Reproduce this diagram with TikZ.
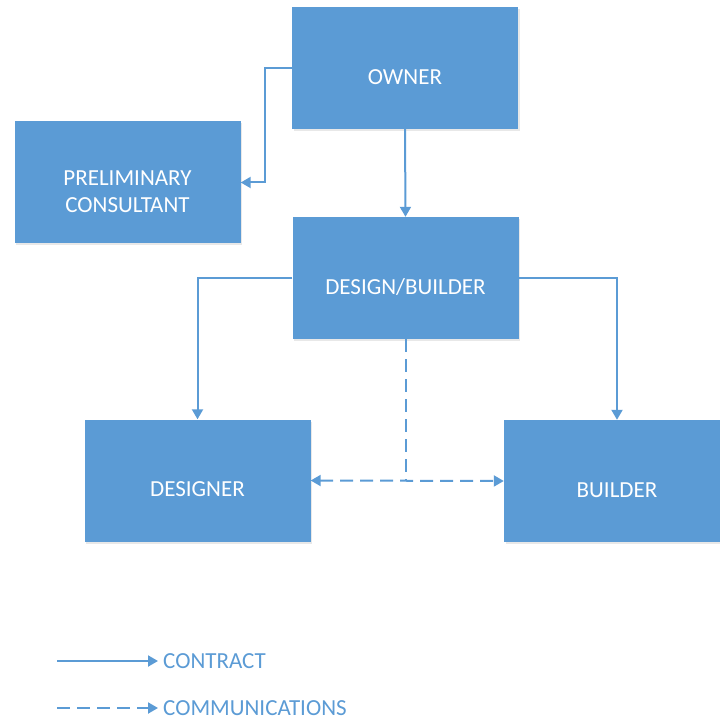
\documentclass[tikz,border=0pt]{standalone}
\usepackage{fontspec}
\setmainfont{Carlito}
\usetikzlibrary{arrows.meta,shadows}
\definecolor{boxblue}{HTML}{5B9BD5}

\begin{document}
\begin{tikzpicture}[x=1pt, y=-1pt,
		party/.style={fill=boxblue, minimum width=226pt, minimum height=122pt, drop shadow={opacity=0.18, shadow xshift=1.5pt, shadow yshift=-2pt}},
		partytext/.style={text=white, align=center, font=\fontsize{23}{27}\selectfont, yshift=-9pt},
		contract/.style={draw=boxblue, line width=2pt, -{Triangle[length=10pt, width=11pt]}},
		comm/.style={contract, dash pattern=on 13pt off 7pt},
		legend/.style={text=boxblue, font=\fontsize{23}{27}\selectfont, anchor=west, inner xsep=5pt, inner ysep=0pt}]
				
				\useasboundingbox (0,0) rectangle (720,719);
				\begin{scope}
				\clip (0,0) rectangle (720,719);
				\node[party, label={[partytext]center:OWNER}] (Owner) at (405,68) {};
				\node[party, label={[partytext]center:PRELIMINARY\\CONSULTANT}] (Prelim) at (127.5,182.5) {};
				\node[party, label={[partytext]center:DESIGN/BUILDER}] (DB) at (405.5,278) {};
				\node[party, label={[partytext]center:DESIGNER}] (Designer) at (197.5,480.5) {};
				\node[party, label={[partytext]center:BUILDER}] (Builder) at (617,481) {};
				\end{scope}
				
				\draw[contract] (Owner.west) -- ++(-27,0) |- (Prelim.east);
				\draw[contract] (Owner.south) -- (DB.north);
				\draw[contract] (DB.west) -| (Designer.north);
				\draw[contract] (DB.east) -| (Builder.north);
				
				\coordinate (Meet) at (DB.south |- Designer.east);
				\draw[comm, -] (DB.south) -- (Meet);
				\draw[comm, {Triangle[length=10pt, width=11pt]}-{Triangle[length=10pt, width=11pt]}] (Designer.east) -- (Builder.west);
				
				\node[legend] (Contract) at (158,661) {CONTRACT};
				\node[legend] (Comms) at (158,708) {COMMUNICATIONS};
				\coordinate (ContractStart) at (57,661);
				\coordinate (CommsStart) at (57,708);
				\draw[contract] (ContractStart) -- (Contract.west);
				\draw[comm] (CommsStart) -- (Comms.west);
				
			\end{tikzpicture}
\end{document}
